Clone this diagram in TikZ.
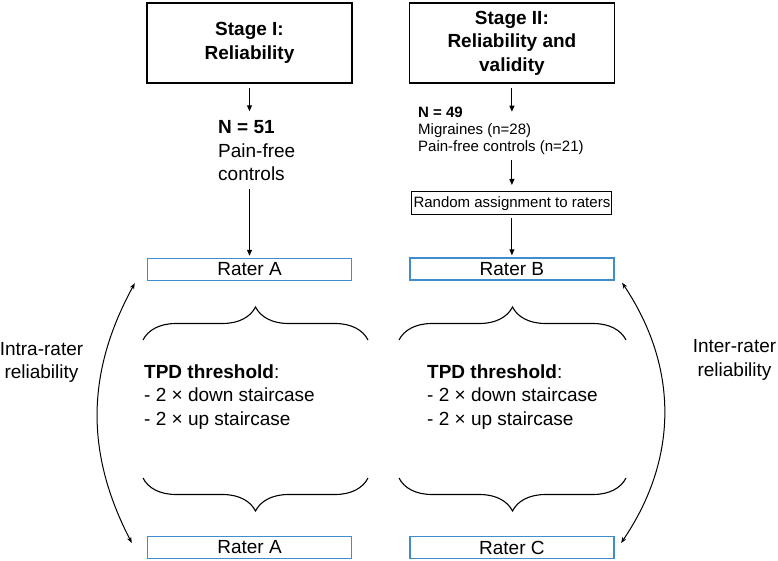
\documentclass[tikz,border=0pt]{standalone}
\usepackage{fontspec}
\setmainfont{Liberation Sans}
\usepackage{tikz}
\usetikzlibrary{arrows.meta,positioning,decorations.pathreplacing}

\definecolor{raterblue}{RGB}{65,140,205}
\newcommand{\bigtxt}{\fontsize{19}{23.5}\selectfont}
\newcommand{\smalltxt}{\fontsize{15}{17}\selectfont}

\begin{document}
\begin{tikzpicture}[%
    x=1pt, y=-1pt,              % work in pixels of the page, y going down
    >={Triangle[length=6pt,width=5pt]},
    node distance=56pt,
    font=\bigtxt,
    ]

\tikzset{
    base/.style={draw, align=center, inner sep=0pt},
    stage/.style={base, line width=1.4pt, minimum width=205pt, minimum height=80pt, font={\bigtxt\bfseries}},
    rater/.style={base, draw=raterblue, line width=1.4pt, minimum width=204pt, minimum height=22pt},
    plain/.style={align=left, inner sep=0pt},
    % Arrows
    fforw/.style={->, line width=1pt},
    rel/.style={{Stealth[length=6pt,width=4.5pt]}-{Stealth[length=6pt,width=4.5pt]}, line width=1pt},
    curly/.style={decorate, decoration={brace, amplitude=33pt}, line width=1.1pt},
}
\useasboundingbox (0,0) rectangle (778,561);

%% Stage I
\node [stage] (stageI) at (249.5,43) {Stage I:\\Reliability};
\node [plain, anchor=west] (n51) at (218,150.6) {\textbf{N = 51}\\Pain-free\\controls};
    \draw[fforw, shorten <=4pt, shorten >=9pt] (stageI) -- (stageI |- n51.north);
\node [rater] (raterA) at (249.5,269.5) {Rater A};
    \draw[fforw, shorten <=8pt, shorten >=2pt] (n51.south -| stageI) -- (raterA);

%% Stage II
\node [stage, right=of stageI] (stageII) {Stage II:\\Reliability and\\validity};
\node [plain, anchor=west, font=\smalltxt] (n49) at (418,130.7) {\textbf{N = 49}\\Migraines (n=28)\\Pain-free controls (n=21)};
    \draw[fforw, shorten <=4pt, shorten >=19pt] (stageII) -- (stageII |- n49.west);
\node [base, line width=1pt, minimum width=200pt, minimum height=23pt, font=\smalltxt] (random) at (stageII |- 0,203.5) {Random assignment to raters};
    \draw[fforw, shorten <=5.5pt, shorten >=6.5pt] (n49.south -| stageII) -- (random);
\node [rater] (raterB) at (stageII |- 0,269) {Rater B};
    \draw[fforw, shorten <=2.5pt, shorten >=2pt] (random) -- (raterB);

%% Threshold blocks
\draw[curly] (143,340) -- (368,340);
\draw[curly] (368,478) -- (143,478);
\node [plain, anchor=west] (tpdA) at (144,397) {\textbf{TPD threshold}:\\- 2 × down staircase\\- 2 × up staircase};
\draw[curly] (399,340) -- (626,340);
\draw[curly] (626,478) -- (399,478);
\node [plain, anchor=west] (tpdB) at (427,397) {\textbf{TPD threshold}:\\- 2 × down staircase\\- 2 × up staircase};

\node [rater] (raterAA) at (249.5,547.5) {Rater A};
\node [rater] (raterC) at (stageII |- 0,547.5) {Rater C};

%% Reliability arcs
\node [align=center, inner sep=0pt] (intra) at (41.5,362.5) {Intra-rater\\reliability};
    \draw[rel] ([xshift=-12pt,yshift=-2pt]raterA.south west) to[bend right=28] ([xshift=-15pt,yshift=4.5pt]raterAA.west);
\node [align=center, inner sep=0pt] (inter) at (734.5,360) {Inter-rater\\reliability};
    \draw[rel] ([xshift=7.5pt,yshift=-2pt]raterB.south east) to[bend left=34] ([xshift=6.5pt,yshift=4.5pt]raterC.east);
\end{tikzpicture}
\end{document}
